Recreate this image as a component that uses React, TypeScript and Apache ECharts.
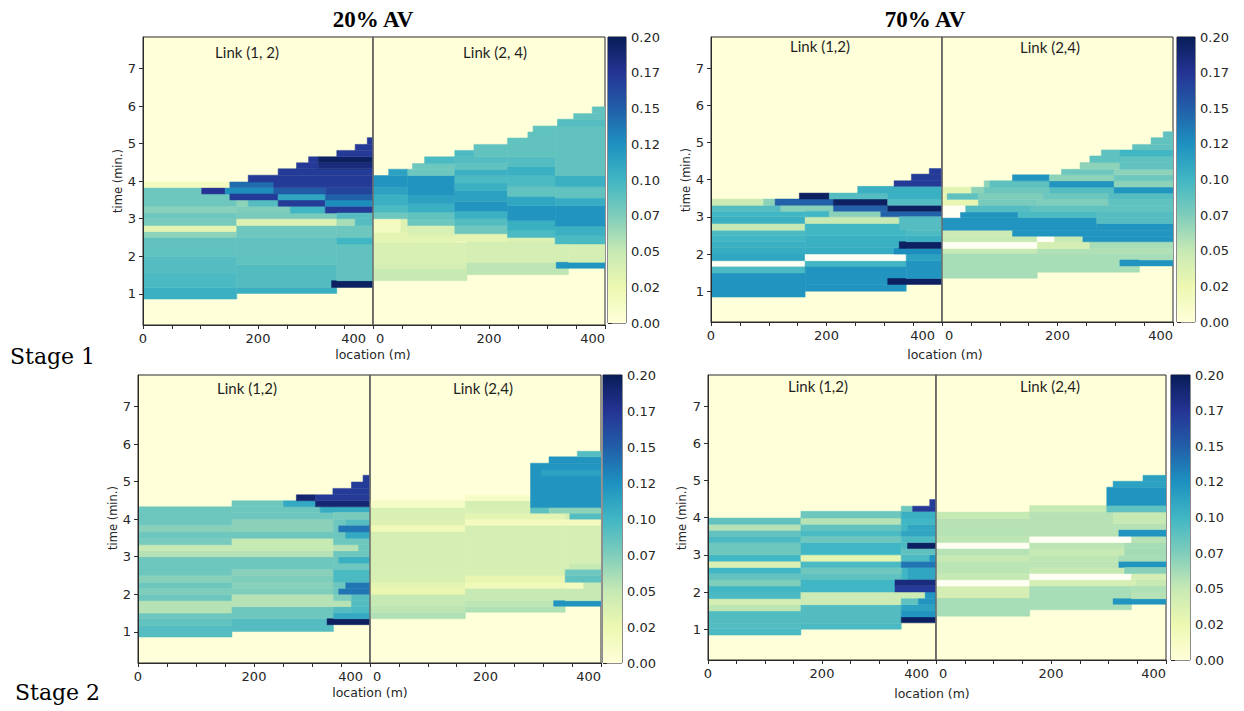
import React, { useEffect, useRef } from 'react';
import * as echarts from 'echarts';

// Each cell: [x0 (m), x1 (m), t0 (min), t1 (min), density]; -1 = empty (white) cell
const s1Av20Link12 = [
  [0,163,0.86,1.17,0.104],[0,163,1.17,1.53,0.096],[0,163,1.53,2.0,0.092],[0,163,2.0,2.51,0.087],
  [0,163,2.51,2.66,0.07],[0,163,2.66,2.82,0.031],[0,163,2.82,3.0,0.078],[0,163,3.0,3.15,0.082],
  [0,163,3.15,3.33,0.072],[0,163,3.33,3.66,0.082],[0,102,3.66,3.83,0.082],[102,143,3.66,3.83,0.175],
  [143,227,3.66,3.83,0.127],[0,151,3.83,3.98,0.015],
  [163,337,1.01,1.17,0.104],[163,337,1.17,1.79,0.093],[163,337,1.79,2.51,0.087],[163,337,2.51,2.82,0.082],
  [163,337,2.82,3.0,0.036],[163,337,3.0,3.15,0.078],[163,256,3.15,3.33,0.075],[256,317,3.15,3.33,0.1],
  [317,400,3.15,3.33,0.17],[163,183,3.33,3.5,0.07],[183,235,3.33,3.5,0.092],[235,317,3.33,3.5,0.17],
  [317,400,3.33,3.5,0.127],[151,235,3.5,3.66,0.17],[235,317,3.5,3.66,0.111],[317,400,3.5,3.66,0.149],
  [227,317,3.66,3.83,0.152],[317,400,3.66,3.83,0.165],[151,227,3.83,3.98,0.143],[227,400,3.83,3.98,0.17],
  [183,400,3.98,4.16,0.172],[235,400,4.16,4.33,0.17],[267,305,4.33,4.49,0.172],[305,400,4.33,4.49,0.185],
  [288,305,4.49,4.65,0.172],[305,400,4.49,4.65,0.196],[337,400,4.65,4.82,0.172],[369,400,4.82,4.98,0.172],
  [390,400,4.98,5.16,0.172],
  [328,400,1.17,1.35,0.196],[337,400,1.35,2.33,0.087],[337,400,2.33,2.51,0.1],[337,400,2.51,2.82,0.082],
  [337,369,2.82,3.0,0.061],[369,400,2.82,3.0,0.092],[337,400,3.0,3.15,0.092],
];

const s1Av20Link24 = [
  [0,162,1.35,1.66,0.05],[0,162,1.66,1.84,0.041],[0,162,1.84,2.37,0.039],[162,337,1.51,1.84,0.053],
  [162,337,1.84,2.4,0.041],[316,400,1.68,1.84,0.122],[337,400,1.84,2.33,0.041],
  [0,60,2.37,2.64,0.031],[0,48,2.64,3.0,0.015],[48,60,2.64,3.0,0.036],[0,60,3.0,3.17,0.082],
  [0,60,3.17,3.35,0.096],[0,60,3.35,3.66,0.104],[0,60,3.66,3.84,0.114],[0,60,3.84,4.15,0.122],
  [27,60,4.15,4.32,0.114],
  [60,141,2.37,2.55,0.031],[60,141,2.55,2.82,0.039],[60,141,2.82,2.98,0.082],[60,141,2.98,3.17,0.087],
  [60,141,3.17,3.4,0.104],[60,141,3.4,3.62,0.114],[60,141,3.62,4.15,0.122],[60,141,4.15,4.32,0.082],
  [68,141,4.32,4.47,0.082],[89,141,4.47,4.65,0.096],
  [141,232,2.4,2.6,0.031],[141,232,2.6,2.82,0.082],[141,232,2.82,3.0,0.092],[141,232,3.0,3.2,0.104],
  [141,232,3.2,3.45,0.122],[141,232,3.45,3.75,0.114],[141,232,3.75,3.95,0.104],[141,232,3.95,4.15,0.096],
  [141,232,4.15,4.32,0.104],[141,232,4.32,4.47,0.087],[141,232,4.47,4.65,0.092],[141,174,4.65,4.82,0.096],
  [174,232,4.65,4.98,0.087],
  [232,314,2.4,2.5,0.036],[232,314,2.5,2.7,0.096],[232,314,2.7,2.95,0.104],[232,314,2.95,3.35,0.122],
  [232,314,3.35,3.6,0.111],[232,314,3.6,3.85,0.087],[232,314,3.85,4.15,0.096],[232,314,4.15,4.4,0.104],
  [232,314,4.4,4.65,0.092],[232,314,4.65,5.15,0.087],[267,314,5.15,5.31,0.087],[276,314,5.31,5.47,0.087],
  [314,400,2.33,2.55,0.096],[314,400,2.55,2.8,0.104],[314,400,2.8,3.35,0.122],[314,400,3.35,3.55,0.107],
  [314,400,3.55,3.85,0.087],[314,400,3.85,4.15,0.104],[314,400,4.15,5.47,0.087],[318,400,5.47,5.65,0.092],
  [346,400,5.65,5.8,0.087],[378,400,5.8,5.98,0.087],
];

const s1Av70Link12 = [
  [0,163,0.84,1.49,0.122],[0,163,1.49,1.67,0.096],[0,163,1.67,1.82,-1],[0,163,1.82,2.0,0.111],
  [0,163,2.0,2.17,0.107],[0,163,2.17,2.33,0.104],[0,163,2.33,2.49,0.1],[0,163,2.49,2.64,0.096],
  [0,163,2.64,2.82,0.05],[0,163,2.82,3.0,0.104],[0,163,3.0,3.15,0.1],[0,121,3.15,3.31,0.092],
  [121,212,3.15,3.31,0.072],[0,91,3.31,3.48,0.046],[91,111,3.31,3.48,0.07],[111,212,3.31,3.48,0.149],
  [163,338,1.0,1.18,0.122],[163,338,1.18,1.67,0.122],[163,338,1.67,1.82,0.1],[163,338,1.82,2.0,-1],
  [163,338,2.0,2.17,0.107],[163,338,2.17,2.49,0.104],[163,338,2.49,2.82,0.1],[163,326,2.82,3.0,0.05],
  [163,205,3.0,3.15,0.1],[205,294,3.0,3.15,0.072],[294,400,3.0,3.15,0.149],[212,306,3.15,3.31,0.149],
  [306,400,3.15,3.31,0.196],[212,306,3.31,3.48,0.196],[306,400,3.31,3.48,0.092],[153,205,3.48,3.64,0.196],
  [205,306,3.48,3.64,0.092],[306,400,3.48,3.64,0.104],[254,400,3.64,3.82,0.104],[317,400,3.82,3.97,0.172],
  [347,400,3.97,4.15,0.17],[378,400,4.15,4.3,0.17],
  [306,400,1.18,1.34,0.196],[338,400,1.34,1.82,0.122],[338,400,1.82,2.0,0.114],[317,400,2.0,2.15,0.127],
  [326,400,2.15,2.33,0.196],[338,400,2.33,2.49,0.104],[338,400,2.49,2.64,0.096],[326,400,2.64,3.0,0.092],
];

const s1Av70Link24 = [
  [0,165,1.35,2.02,0.061],[165,342,1.51,2.02,0.061],[308,400,1.68,1.84,0.122],[342,400,1.84,2.02,0.061],
  [0,165,2.02,2.15,0.05],[165,400,2.02,2.15,0.058],[0,165,2.15,2.33,-1],[165,256,2.15,2.33,0.041],
  [256,400,2.15,2.33,0.061],[0,165,2.33,2.48,0.05],[165,195,2.33,2.48,-1],[195,244,2.33,2.48,0.05],
  [244,400,2.33,2.48,0.122],[0,122,2.48,2.64,0.046],[122,400,2.48,2.64,0.122],[0,268,2.64,2.98,0.122],
  [268,400,2.64,2.82,0.122],[268,400,2.82,2.98,0.092],[0,32,2.98,3.13,-1],[32,132,2.98,3.13,0.122],
  [132,268,2.98,3.13,0.096],[268,400,2.98,3.13,0.092],[0,41,3.13,3.31,-1],[41,154,3.13,3.31,0.092],
  [154,400,3.13,3.31,0.087],[0,63,3.31,3.47,0.028],[63,165,3.31,3.47,0.078],[165,288,3.31,3.47,0.075],
  [288,400,3.31,3.47,0.088],[0,9,3.47,3.64,0.028],[9,63,3.47,3.64,0.088],[63,175,3.47,3.64,0.075],
  [175,288,3.47,3.64,0.082],[288,400,3.47,3.64,0.092],[0,51,3.64,3.8,0.031],[51,73,3.64,3.8,0.07],
  [73,186,3.64,3.8,0.082],[186,298,3.64,3.8,0.092],[298,400,3.64,3.8,0.122],[73,83,3.8,3.97,0.07],
  [83,186,3.8,3.97,0.088],[186,298,3.8,3.97,0.122],[298,400,3.8,3.97,0.07],[122,186,3.97,4.13,0.122],
  [186,298,3.97,4.13,0.07],[298,400,3.97,4.13,0.082],[207,298,4.13,4.28,0.082],[298,400,4.13,4.28,0.07],
  [239,308,4.28,4.46,0.07],[308,400,4.28,4.46,0.087],[256,400,4.46,4.64,0.088],[276,308,4.64,4.8,0.088],
  [308,400,4.64,4.8,0.1],[330,400,4.8,4.95,0.087],[362,400,4.95,5.13,0.087],[383,400,5.13,5.29,0.088],
];

const s2Av20Link12 = [
  [0,162,0.86,1.17,0.092],[0,162,1.17,1.35,0.087],[0,162,1.35,1.5,0.082],[0,162,1.5,1.83,0.056],
  [0,162,1.83,2.0,0.082],[0,162,2.0,2.16,0.075],[0,162,2.16,2.32,0.082],[0,162,2.32,2.5,0.072],
  [0,162,2.5,3.0,0.082],[0,162,3.0,3.16,0.056],[0,162,3.16,3.32,0.05],[0,162,3.32,3.49,0.078],
  [0,162,3.49,3.66,0.082],[0,162,3.66,3.84,0.072],[0,162,3.84,4.33,0.082],
  [162,337,1.01,1.35,0.092],[162,337,1.35,1.67,0.082],[162,337,1.67,2.0,0.056],[162,337,2.0,2.16,0.075],
  [162,337,2.16,2.32,0.072],[162,337,2.32,2.5,0.075],[162,337,2.5,2.67,0.072],[162,337,2.67,3.0,0.082],
  [162,337,3.0,3.16,0.056],[162,337,3.16,3.49,0.05],[162,337,3.49,3.66,0.082],[162,337,3.66,4.0,0.071],
  [162,337,4.0,4.18,0.082],[162,314,4.18,4.33,0.082],[314,400,4.18,4.33,0.107],[162,251,4.33,4.49,0.082],
  [251,306,4.33,4.49,0.109],[306,400,4.33,4.49,0.19],[273,306,4.49,4.65,0.19],[306,400,4.49,4.65,0.172],
  [336,400,4.65,4.82,0.17],[368,400,4.82,4.99,0.17],[388,400,4.99,5.17,0.17],
  [326,400,1.19,1.35,0.196],[337,400,1.35,1.5,0.109],[337,368,1.5,1.67,0.092],[368,400,1.5,1.67,0.096],
  [337,368,1.67,1.83,0.056],[368,400,1.67,1.83,0.092],[337,368,1.83,2.0,0.075],[368,400,1.83,2.0,0.092],
  [337,346,2.0,2.16,0.082],[346,400,2.0,2.16,0.138],[337,358,2.16,2.32,0.082],[358,400,2.16,2.32,0.138],
  [337,400,2.32,2.67,0.096],[337,400,2.67,2.83,0.082],[337,346,2.83,3.0,0.082],[346,400,2.83,3.0,0.104],
  [337,400,3.0,3.16,0.082],[337,380,3.16,3.32,0.056],[380,400,3.16,3.32,0.082],[337,400,3.32,3.49,0.082],
  [337,358,3.49,3.66,0.082],[358,400,3.49,3.66,0.109],[337,346,3.66,3.84,0.082],[346,400,3.66,3.84,0.138],
  [337,358,3.84,4.0,0.082],[358,400,3.84,4.0,0.092],[337,400,4.0,4.18,0.078],
];

const s2Av20Link24 = [
  [0,165,1.35,1.52,0.058],[0,165,1.52,1.7,0.053],[0,165,1.7,2.0,0.05],[0,165,2.0,2.16,0.026],
  [0,165,2.16,2.32,0.031],[0,165,2.32,2.5,0.039],[0,165,2.5,3.67,0.041],[0,165,3.67,3.84,0.021],
  [0,165,3.84,4.0,0.036],[0,165,4.0,4.31,0.039],[0,165,4.31,4.49,0.012],
  [165,338,1.52,1.68,0.058],[165,338,1.68,1.83,0.053],[165,338,1.83,2.16,0.05],[165,338,2.16,2.32,0.021],
  [165,338,2.32,2.5,0.028],[165,338,2.5,2.67,0.039],[165,338,2.67,3.84,0.041],[165,338,3.84,4.0,0.017],
  [165,338,4.0,4.16,0.031],[165,338,4.16,4.31,0.039],[165,278,4.31,4.49,0.041],[165,278,4.49,4.64,0.012],
  [318,400,1.68,1.83,0.122],[338,400,1.83,2.16,0.05],[338,370,2.16,2.32,0.017],[370,400,2.16,2.32,0.05],
  [338,400,2.32,2.5,0.088],[338,400,2.5,2.67,0.082],[338,346,2.67,2.83,0.041],[346,400,2.67,2.83,0.05],
  [338,400,2.83,3.84,0.041],[338,400,3.84,4.0,0.017],[338,346,4.0,4.16,0.041],[346,400,4.0,4.16,0.092],
  [278,310,4.16,4.31,0.088],[310,400,4.16,4.31,0.07],[278,400,4.31,5.49,0.122],[297,400,5.15,5.31,0.114],
  [310,400,5.49,5.66,0.122],[359,400,5.66,5.81,0.092],
];

const s2Av70Link12 = [
  [0,163,0.84,1.02,0.096],[0,163,1.02,1.15,0.092],[0,163,1.15,1.49,0.093],[0,163,1.49,1.66,0.053],
  [0,163,1.66,1.82,0.041],[0,163,1.82,2.0,0.096],[0,163,2.0,2.16,0.1],[0,163,2.16,2.33,0.075],
  [0,163,2.33,2.5,0.087],[0,163,2.5,2.66,0.1],[0,163,2.66,2.83,0.039],[0,163,2.83,3.0,0.1],
  [0,163,3.0,3.33,0.082],[0,163,3.33,3.5,0.096],[0,163,3.5,3.66,0.087],[0,163,3.66,3.82,0.056],
  [0,163,3.82,3.99,0.087],
  [163,339,1.0,1.15,0.096],[163,339,1.15,1.49,0.093],[163,339,1.49,1.66,0.092],[163,339,1.66,1.82,0.046],
  [163,381,1.82,2.0,0.046],[381,400,1.82,2.0,0.122],[163,328,2.0,2.34,0.1],[328,400,2.0,2.18,0.172],
  [328,400,2.18,2.34,0.185],[163,339,2.34,2.5,0.088],[339,350,2.34,2.66,0.1],[350,400,2.34,2.66,0.111],
  [163,339,2.5,2.66,0.082],[163,339,2.66,2.83,0.096],[339,400,2.66,2.83,0.138],[163,339,2.83,3.0,0.031],
  [339,389,2.83,3.0,0.096],[389,400,2.83,3.0,0.122],[163,339,3.0,3.33,0.1],[339,400,3.0,3.17,0.088],
  [339,350,3.17,3.33,0.096],[350,400,3.17,3.33,0.196],[163,339,3.33,3.5,0.082],[339,400,3.33,3.5,0.096],
  [163,339,3.5,3.66,0.096],[339,400,3.5,3.66,0.111],[163,339,3.66,3.82,0.087],[339,350,3.66,3.82,0.1],
  [350,400,3.66,3.82,0.111],[163,339,3.82,3.99,0.056],[339,400,3.82,3.99,0.1],[163,339,3.99,4.17,0.082],
  [339,400,3.99,4.17,0.104],[339,359,4.17,4.31,0.082],[359,400,4.17,4.31,0.172],[389,400,4.31,4.49,0.17],
  [339,400,1.17,1.33,0.196],[339,400,1.33,1.49,0.122],[339,400,1.49,1.66,0.114],[339,369,1.66,1.82,0.088],
  [369,400,1.66,1.82,0.122],
];

const s2Av70Link24 = [
  [0,163,1.35,1.84,0.061],[0,163,1.84,2.16,0.041],[0,163,2.16,2.33,-1],[0,163,2.33,2.5,0.05],
  [0,163,2.5,2.83,0.054],[0,163,2.83,2.99,0.05],[0,163,2.99,3.17,0.056],[0,163,3.17,3.33,-1],
  [0,163,3.33,3.5,0.053],[0,163,3.5,3.97,0.056],[0,163,3.97,4.15,0.05],
  [163,340,1.52,2.16,0.061],[163,349,2.16,2.33,0.041],[163,340,2.33,2.5,-1],[163,340,2.5,2.66,0.05],
  [163,318,2.66,2.83,0.054],[318,400,2.66,2.83,0.122],[163,318,2.83,2.99,0.053],[318,400,2.83,2.99,0.061],
  [163,328,2.99,3.17,0.05],[328,400,2.99,3.17,0.062],[163,328,3.17,3.33,0.054],[328,400,3.17,3.33,0.061],
  [163,340,3.33,3.5,-1],[340,400,3.33,3.5,0.056],[163,318,3.5,3.68,0.056],[318,400,3.5,3.68,0.122],
  [163,400,3.68,3.84,0.056],[163,308,3.84,4.15,0.056],[308,400,3.84,4.15,0.05],[163,297,4.15,4.33,0.05],
  [297,400,4.15,4.33,0.088],[297,400,4.33,4.82,0.122],[308,400,4.82,4.98,0.114],[360,400,4.98,5.14,0.114],
  [308,400,1.67,1.82,0.122],[340,400,1.82,2.0,0.056],[340,400,2.0,2.16,0.058],[349,400,2.16,2.33,0.05],
  [340,400,2.33,2.5,0.041],[328,400,2.5,2.66,0.072],
];

const YLGNBU = ['#ffffd9', '#edf8b1', '#c7e9b4', '#7fcdbb', '#41b6c4', '#1d91c0', '#225ea8', '#253494', '#081d58'];
const Y_TICKS = [1, 2, 3, 4, 5, 6, 7];
const X_LABELS = [0, 200, 400];
const T_MIN = 0.17;
const T_MAX = 7.84;
const C_MIN = 0;
const C_MAX = 0.2;
const LINK_LEN = 400;

const PANELS = [
  {
    data: [s1Av20Link12, s1Av20Link24],
    grids: [[143, 37, 230, 288], [373, 37, 232, 288]],
    cbar: [608, 37, 18, 286],
    links: [['Link (1, 2)', 247, 52], ['Link (2, 4)', 495, 52]],
    loc: [373, 354],
    time: [118, 181],
  },
  {
    data: [s1Av70Link12, s1Av70Link24],
    grids: [[711, 37, 231, 285], [942, 37, 231, 285]],
    cbar: [1177, 37, 18, 285],
    links: [['Link (1,2)', 820, 46], ['Link (2,4)', 1050, 47]],
    loc: [945, 354],
    time: [686, 180],
  },
  {
    data: [s2Av20Link12, s2Av20Link24],
    grids: [[138, 375, 232, 288], [370, 375, 231, 288]],
    cbar: [603, 375, 19, 288],
    links: [['Link (1,2)', 247, 388], ['Link (2,4)', 483, 388]],
    loc: [370, 692],
    time: [113, 518],
  },
  {
    data: [s2Av70Link12, s2Av70Link24],
    grids: [[708, 375, 228, 285], [936, 375, 230, 285]],
    cbar: [1171, 375, 19, 285],
    links: [['Link (1,2)', 818, 386], ['Link (2,4)', 1050, 386]],
    loc: [932, 693],
    time: [682, 518],
  },
];

const TITLES: [string, number, number][] = [['20% AV', 373, 19], ['70% AV', 925, 19]];
const STAGES: [string, number, number][] = [['Stage 1', 10, 356], ['Stage 2', 15, 692]];

const tickFont = { fontFamily: 'DejaVu Sans', fontSize: 13, color: '#262626' };

function cellRender(params: any, api: any) {
  const x0 = api.value(0), x1 = api.value(1), t0 = api.value(2), t1 = api.value(3), v = api.value(4);
  const a = api.coord([x0, t1]);
  const b = api.coord([x1, t0]);
  const fill = v < 0 ? '#fffff4' : api.visual('color');
  return {
    type: 'rect',
    shape: { x: a[0], y: a[1], width: b[0] - a[0], height: b[1] - a[1] },
    style: { fill, stroke: fill, lineWidth: 0.5 },
  };
}

function cbarRender(params: any, api: any) {
  const a = api.coord([api.value(0), api.value(3)]);
  const b = api.coord([api.value(1), api.value(2)]);
  return {
    type: 'rect',
    shape: { x: a[0], y: a[1], width: b[0] - a[0], height: b[1] - a[1] },
    style: {
      fill: new echarts.graphic.LinearGradient(0, 1, 0, 0,
        YLGNBU.map((c, i) => ({ offset: i / (YLGNBU.length - 1), color: c }))),
    },
  };
}

function buildOption() {
  const grid: any[] = [];
  const xAxis: any[] = [];
  const yAxis: any[] = [];
  const dataSeries: any[] = [];
  const cbarSeries: any[] = [];
  const graphic: any[] = [];

  PANELS.forEach((p) => {
    p.grids.forEach((g, k) => {
      const gi = grid.length;
      grid.push({
        left: g[0], top: g[1], width: g[2], height: g[3],
        show: true, backgroundColor: '#ffffd9', borderColor: '#2b2b2b', borderWidth: 1,
        outerBoundsMode: 'none',
      });
      const richStyle = { fontFamily: tickFont.fontFamily, fontSize: tickFont.fontSize, color: tickFont.color };
      xAxis.push({
        gridIndex: gi, type: 'value', min: 0, max: LINK_LEN, interval: 50, z: 10,
        axisLine: { show: true, onZero: false, lineStyle: { color: '#2b2b2b', width: 1 } },
        axisTick: { show: true, length: 4, lineStyle: { color: '#2b2b2b' } },
        axisLabel: {
          ...tickFont, margin: 7,
          formatter: (v: number) => {
            if (!X_LABELS.includes(v)) return '';
            if (k === 0 && v === LINK_LEN) return '{e|' + v + '}';
            if (k === 1 && v === 0) return '{s|' + v + '}';
            return String(v);
          },
          rich: {
            e: { ...richStyle, padding: [0, 7, 0, 0] },
            s: { ...richStyle, padding: [0, 0, 0, 3] },
          },
          alignMinLabel: k === 0 ? 'center' : 'left',
          alignMaxLabel: 'right',
        },
        splitLine: { show: false },
      });
      if (k === 0) {
        yAxis.push({
          gridIndex: gi, type: 'value', min: T_MIN, max: T_MAX, z: 10,
          axisLine: { show: true, onZero: false, lineStyle: { color: '#2b2b2b', width: 1 } },
          axisTick: { show: true, length: 4, customValues: Y_TICKS, lineStyle: { color: '#2b2b2b' } },
          axisLabel: { ...tickFont, margin: 7, customValues: Y_TICKS, formatter: (v: number) => String(v) },
          splitLine: { show: false },
        });
      } else {
        yAxis.push({
          gridIndex: gi, type: 'value', min: T_MIN, max: T_MAX, z: 10,
          axisLine: { show: true, onZero: false, lineStyle: { color: '#6e6e6e', width: 1.5 } },
          axisTick: { show: false },
          axisLabel: { show: false },
          splitLine: { show: false },
        });
      }
      dataSeries.push({
        type: 'custom', xAxisIndex: gi, yAxisIndex: gi,
        data: p.data[k], encode: { x: [0, 1], y: [2, 3] },
        renderItem: cellRender, clip: true, silent: true,
      });
    });
    const ci = grid.length;
    grid.push({
      left: p.cbar[0], top: p.cbar[1], width: p.cbar[2], height: p.cbar[3],
      show: true, borderColor: '#1a1a1a', borderWidth: 1, backgroundColor: 'transparent',
      outerBoundsMode: 'none',
    });
    xAxis.push({ gridIndex: ci, type: 'value', min: 0, max: 1, show: false });
    yAxis.push({
      gridIndex: ci, type: 'value', position: 'right', min: C_MIN, max: C_MAX, interval: 0.025,
      axisLine: { show: false },
      axisTick: { show: true, length: 4, lineStyle: { color: '#2b2b2b' } },
      axisLabel: { ...tickFont, margin: 5, formatter: (v: number) => (Math.floor(v * 100 + 1e-6) / 100).toFixed(2) },
      splitLine: { show: false },
    });
    cbarSeries.push({
      type: 'custom', xAxisIndex: ci, yAxisIndex: ci,
      data: [[0, 1, C_MIN, C_MAX]], encode: { x: [0, 1], y: [2, 3] },
      renderItem: cbarRender, silent: true,
    });

    p.links.forEach((l) => {
      graphic.push({
        type: 'text', x: l[1] as number, y: l[2] as number, z: 20,
        style: {
          text: l[0] as string, font: '15px Lato', fill: '#1f1f1f',
          align: 'center', verticalAlign: 'middle', textAlign: 'center', textVerticalAlign: 'middle',
        },
      });
    });
    graphic.push({
      type: 'text', x: p.loc[0], y: p.loc[1],
      style: {
        text: 'location (m)', font: '12.5px "DejaVu Sans"', fill: '#262626',
        align: 'center', verticalAlign: 'middle', textAlign: 'center', textVerticalAlign: 'middle',
      },
    });
    graphic.push({
      type: 'text', x: p.time[0], y: p.time[1], rotation: Math.PI / 2,
      style: {
        text: 'time (min.)', font: '11.5px "DejaVu Sans"', fill: '#262626',
        align: 'center', verticalAlign: 'middle', textAlign: 'center', textVerticalAlign: 'middle',
      },
    });
  });

  TITLES.forEach((t) => {
    graphic.push({
      type: 'text', x: t[1], y: t[2],
      style: {
        text: t[0], font: 'bold 23px "Liberation Serif"', fill: '#000',
        align: 'center', verticalAlign: 'middle', textAlign: 'center', textVerticalAlign: 'middle',
      },
    });
  });
  STAGES.forEach((s) => {
    graphic.push({
      type: 'text', x: s[1], y: s[2],
      style: {
        text: s[0], font: '22px "DejaVu Serif"', fill: '#000',
        align: 'left', verticalAlign: 'middle', textAlign: 'left', textVerticalAlign: 'middle',
      },
    });
  });

  return {
    animation: false,
    backgroundColor: '#ffffff',
    grid, xAxis, yAxis,
    visualMap: {
      type: 'continuous', show: false, min: C_MIN, max: C_MAX, dimension: 4,
      seriesIndex: dataSeries.map((_, i) => i),
      inRange: { color: YLGNBU },
      outOfRange: { color: '#fffff4' },
    },
    series: [...dataSeries, ...cbarSeries],
    graphic,
  };
}

export default function App() {
  const ref = useRef<HTMLDivElement>(null);
  useEffect(() => {
    if (!ref.current) return;
    const chart = echarts.init(ref.current, null, { renderer: 'svg' });
    chart.setOption(buildOption() as any);
    return () => chart.dispose();
  }, []);
  return (
    <div
      ref={ref}
      style={{ position: 'fixed', left: 0, top: 0, width: 1244, height: 711, background: '#fff' }}
    />
  );
}
